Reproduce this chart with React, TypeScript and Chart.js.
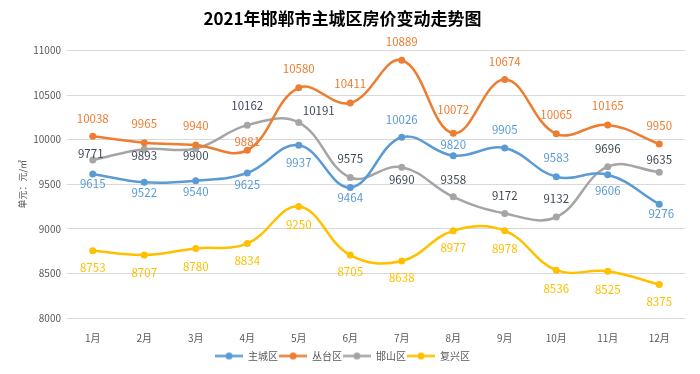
import React, { useEffect, useRef } from "react";
import { Chart, registerables } from "chart.js";

Chart.register(...registerables);

const months = ["1月", "2月", "3月", "4月", "5月", "6月", "7月", "8月", "9月", "10月", "11月", "12月"];
const seriesNames = ["主城区", "丛台区", "邯山区", "复兴区"];
const zhucheng = [9615, 9522, 9540, 9625, 9937, 9464, 10026, 9820, 9905, 9583, 9606, 9276];
const congtai = [10038, 9965, 9940, 9881, 10580, 10411, 10889, 10072, 10674, 10065, 10165, 9950];
const hanshan = [9771, 9893, 9900, 10162, 10191, 9575, 9690, 9358, 9172, 9132, 9696, 9635];
const fuxing = [8753, 8707, 8780, 8834, 9250, 8705, 8638, 8977, 8978, 8536, 8525, 8375];
const yTicks = [8000, 8500, 9000, 9500, 10000, 10500, 11000];

const titleText = "2021年邯郸市主城区房价变动走势图";
const yTitle = "单元：元/㎡";

// label placement (pixel offsets relative to the point), kept apart from data
const labelDy = [
  [10, 10, 11, 12, 17, 10, -18, -11, -18, -19, 16, 9],
  [-18, -19, -19, -9, -19, -19, -19, -24, -18, -19, -19, -18],
  [-6, 6, 7, -20, -12, -19, 12, -17, -18, -18, -18, -13],
  [17, 18, 18, 17, 18, 17, 17, 17, 18, 18, 18, 17],
];
const labelDx = [
  [0, 0, 0, 0, 0, 0, 0, 0, 0, 0, 0, 2],
  [0, 0, 0, 0, 0, 0, 0, 0, 0, 0, 0, 0],
  [-2, 0, 0, 0, 20, 0, 0, 0, 0, 0, 0, 0],
  [0, 0, 0, 0, 0, 0, 0, 0, 0, 0, 0, 0],
];

const lineColors = ["#5B9BD5", "#ED7D31", "#A5A5A5", "#FFC000"];
const labelColors = ["#5B9BD5", "#ED7D31", "#404A58", "#FFC000"];
const FONT = "'Noto Sans CJK SC', 'Noto Sans', sans-serif";

function legendIcon(color: string): HTMLCanvasElement {
  const c = document.createElement("canvas");
  c.width = 28;
  c.height = 9;
  const ctx = c.getContext("2d")!;
  ctx.strokeStyle = color;
  ctx.lineWidth = 2.5;
  ctx.beginPath();
  ctx.moveTo(0, 4.5);
  ctx.lineTo(28, 4.5);
  ctx.stroke();
  ctx.fillStyle = color;
  ctx.beginPath();
  ctx.arc(14, 4.5, 3.5, 0, Math.PI * 2);
  ctx.fill();
  return c;
}

const dataLabelPlugin = {
  id: "dataLabels",
  afterDatasetsDraw(chart: any) {
    const ctx = chart.ctx;
    ctx.save();
    ctx.font = `11.5px ${FONT}`;
    ctx.textAlign = "center";
    ctx.textBaseline = "middle";
    chart.data.datasets.forEach((ds: any, di: number) => {
      const meta = chart.getDatasetMeta(di);
      meta.data.forEach((pt: any, i: number) => {
        ctx.fillStyle = labelColors[di];
        ctx.fillText(String(ds.data[i]), pt.x + labelDx[di][i], pt.y + labelDy[di][i]);
      });
    });
    ctx.restore();
  },
};

export default function App() {
  const ref = useRef<HTMLCanvasElement | null>(null);
  useEffect(() => {
    if (!ref.current) return;
    const seriesData = [zhucheng, congtai, hanshan, fuxing];
    const chart = new Chart(ref.current, {
      type: "line",
      data: {
        labels: months,
        datasets: seriesData.map((d, i) => ({
          label: seriesNames[i],
          data: d,
          borderColor: lineColors[i],
          backgroundColor: lineColors[i],
          borderWidth: 2.5,
          pointRadius: 3.5,
          pointHoverRadius: 3.5,
          pointBorderWidth: 0,
          pointBackgroundColor: lineColors[i],
          tension: 0.4,
          fill: false,
        })),
      },
      options: {
        responsive: false,
        animation: false,
        layout: { padding: { left: 0, right: 15, top: 0, bottom: 3 } },
        scales: {
          x: {
            offset: true,
            grid: { display: false, offset: true },
            border: { display: false },
            ticks: { color: "#595959", font: { size: 10, family: FONT }, padding: 6 },
          },
          y: {
            min: 8000,
            max: 11000,
            afterBuildTicks: (scale: any) => {
              scale.ticks = yTicks.map((v) => ({ value: v }));
            },
            afterFit: (scale: any) => {
              scale.width = 67;
            },
            grid: { color: "#D9D9D9", drawTicks: false, lineWidth: 1 },
            border: { display: false },
            ticks: {
              color: "#595959",
              font: { size: 10, family: FONT },
              padding: 6,
              callback: (v: any) => String(v),
            },
            title: {
              display: true,
              text: yTitle,
              color: "#595959",
              font: { size: 9, family: FONT },
              padding: { top: 17, bottom: 0 },
            },
          },
        },
        plugins: {
          title: {
            display: true,
            text: titleText,
            color: "#000000",
            font: { size: 17, weight: "bold", family: FONT },
            padding: { top: 8, bottom: 22 },
          },
          legend: {
            position: "bottom",
            labels: {
              usePointStyle: true,
              pointStyleWidth: 28,
              padding: 1,
              color: "#595959",
              font: { size: 10, family: FONT },
              generateLabels: (c: any) => {
                const items = Chart.defaults.plugins.legend.labels.generateLabels(c);
                return items.map((it: any, i: number) => ({ ...it, pointStyle: legendIcon(lineColors[i]) }));
              },
            },
          },
          tooltip: { enabled: false },
        },
      } as any,
      plugins: [dataLabelPlugin],
    });
    return () => chart.destroy();
  }, []);
  return (
    <div style={{ position: "absolute", left: 0, top: 0, width: 700, height: 374, background: "#fff" }}>
      <canvas ref={ref} width={700} height={374} />
    </div>
  );
}
